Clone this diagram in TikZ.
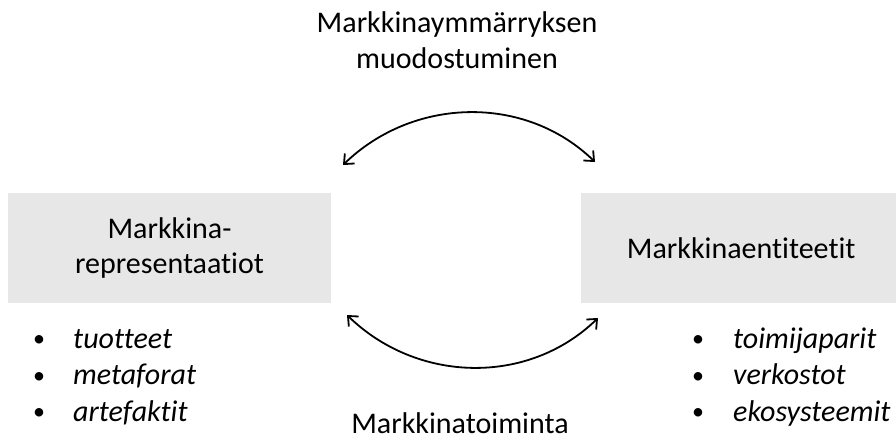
\documentclass[tikz,border=0pt]{standalone}
\usepackage{fontspec}
\setmainfont{Carlito}[Ligatures=NoCommon]
\usetikzlibrary{arrows.meta}
\definecolor{boxgray}{RGB}{231,231,231}
\begin{document}
\begin{tikzpicture}[x=1pt,y=-1pt,
  bigfont/.style={font=\fontsize{30}{36}\selectfont},
  txt/.style={bigfont, inner sep=0pt, align=center},
  entity/.style={bigfont, fill=boxgray, draw=none, inner sep=0pt, align=center},
  bulletmark/.style={font=\fontsize{24}{36}\selectfont, inner sep=0pt, anchor=base},
  itemtext/.style={bigfont, inner sep=0pt, anchor=base west},
  barb/.tip={Straight Barb[length=8pt,width=14pt,line width=1.8pt]},
  cycle arrow/.style={line width=1.8pt, barb-barb}
]
\useasboundingbox (0,0) rectangle (896,439);

% entity boxes
\node[entity, minimum width=323pt, minimum height=110pt] (repr) at (169.5,248)
  {Markkina-\\[-1pt]representaatiot};
\node[entity, minimum width=320pt, minimum height=110pt, anchor=west] (ent) at (581,248)
  {Markkinaentiteetit};

% process labels
\node[txt] (form) at (457,40) {Markkinaymmärryksen\\muodostuminen};
\node[txt, anchor=base] (act) at (460,433) {Markkinatoiminta};

% example lists
\foreach \y/\w [count=\i] in {348/tuotteet, 384.5/metaforat, 421/artefaktit}{
  \node[bulletmark] (rb\i) at (39,\y-1.5) {\textbullet};
  \node[itemtext] (ri\i) at (73,\y) {\textit{\w}};
}
\foreach \y/\w [count=\i] in {348/toimijaparit, 384.5/verkostot, 421/ekosysteemit}{
  \node[bulletmark] (eb\i) at (698,\y-1.5) {\textbullet};
  \node[itemtext] (ei\i) at (733,\y) {\textit{\w}};
}

% arrow ends
\coordinate (tl) at (343,165);
\coordinate (tr) at (595,162);
\coordinate (bl) at (347,315);
\coordinate (br) at (598,318);

\draw[cycle arrow] (tl) .. controls +(70,-68) and +(-70,-68) .. (tr);
\draw[cycle arrow] (bl) .. controls +(70,68) and +(-70,68) .. (br);
\end{tikzpicture}
\end{document}
